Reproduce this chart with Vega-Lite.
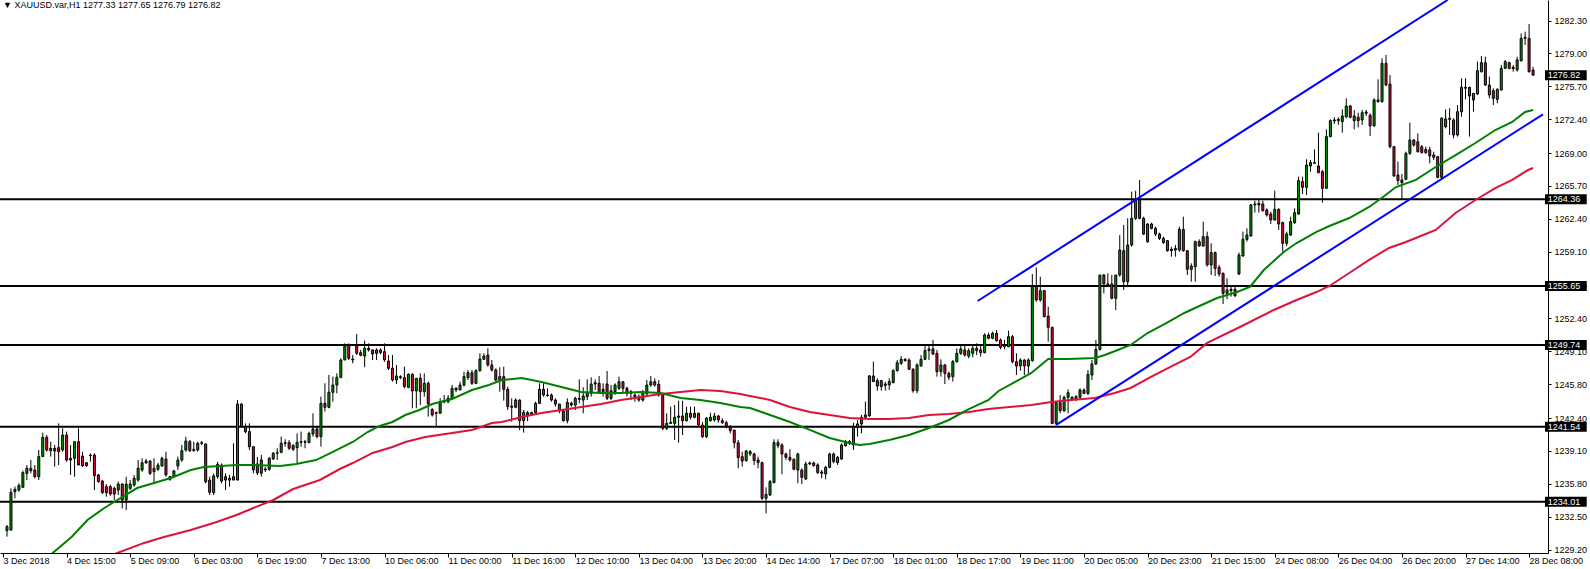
{
  "$schema": "https://vega.github.io/schema/vega-lite/v6.json",
  "width": 1548,
  "height": 553,
  "autosize": {"type": "none"},
  "padding": {"left": 0, "top": 0, "right": 42, "bottom": 16},
  "background": "white",
  "config": {
    "view": {"stroke": null},
    "font": "Liberation Sans",
    "axis": {"labelOverlap": false, "labelBound": false, "grid": false}
  },
  "title": {
    "text": "▼ XAUUSD.var,H1  1277.33 1277.65 1276.79 1276.82",
    "anchor": "start",
    "frame": "group",
    "orient": "top",
    "offset": -10,
    "dx": 3,
    "fontSize": 9,
    "fontWeight": "normal",
    "color": "black",
    "font": "Liberation Sans"
  },
  "datasets": {
    "candles": [
      {"i":0,"o":1231.10,"h":1231.67,"l":1230.50,"c":1231.50},
      {"i":1,"o":1231.17,"h":1235.35,"l":1231.10,"c":1234.95},
      {"i":2,"o":1235.25,"h":1235.52,"l":1234.35,"c":1235.01},
      {"i":3,"o":1235.18,"h":1235.85,"l":1235.01,"c":1235.65},
      {"i":4,"o":1235.45,"h":1237.12,"l":1235.45,"c":1236.92},
      {"i":5,"o":1236.85,"h":1237.69,"l":1236.18,"c":1237.36},
      {"i":6,"o":1237.36,"h":1238.19,"l":1236.85,"c":1237.12},
      {"i":7,"o":1237.19,"h":1237.69,"l":1236.35,"c":1236.52},
      {"i":8,"o":1236.52,"h":1239.20,"l":1236.18,"c":1238.53},
      {"i":9,"o":1238.53,"h":1240.93,"l":1238.53,"c":1240.47},
      {"i":10,"o":1240.47,"h":1240.70,"l":1239.03,"c":1239.20},
      {"i":11,"o":1239.36,"h":1240.03,"l":1238.53,"c":1239.13},
      {"i":12,"o":1239.10,"h":1239.70,"l":1237.52,"c":1239.36},
      {"i":13,"o":1239.43,"h":1241.87,"l":1237.69,"c":1239.03},
      {"i":14,"o":1239.20,"h":1241.37,"l":1239.03,"c":1240.70},
      {"i":15,"o":1240.70,"h":1241.04,"l":1238.02,"c":1238.19},
      {"i":16,"o":1238.19,"h":1239.70,"l":1236.69,"c":1238.36},
      {"i":17,"o":1238.36,"h":1240.03,"l":1236.52,"c":1240.03},
      {"i":18,"o":1240.03,"h":1241.37,"l":1237.69,"c":1237.69},
      {"i":19,"o":1238.59,"h":1239.03,"l":1237.52,"c":1237.59},
      {"i":20,"o":1237.92,"h":1238.00,"l":1237.50,"c":1237.62},
      {"i":21,"o":1238.63,"h":1238.86,"l":1238.02,"c":1238.69},
      {"i":22,"o":1238.69,"h":1238.86,"l":1235.18,"c":1236.62},
      {"i":23,"o":1236.69,"h":1236.80,"l":1235.90,"c":1236.02},
      {"i":24,"o":1236.08,"h":1236.20,"l":1234.80,"c":1234.91},
      {"i":25,"o":1235.52,"h":1235.78,"l":1234.51,"c":1234.91},
      {"i":26,"o":1235.52,"h":1235.70,"l":1234.60,"c":1234.78},
      {"i":27,"o":1235.35,"h":1235.52,"l":1234.18,"c":1234.78},
      {"i":28,"o":1235.18,"h":1236.02,"l":1234.68,"c":1235.78},
      {"i":29,"o":1235.78,"h":1235.85,"l":1233.34,"c":1234.18},
      {"i":30,"o":1234.18,"h":1236.52,"l":1233.17,"c":1235.78},
      {"i":31,"o":1235.35,"h":1236.18,"l":1235.18,"c":1235.78},
      {"i":32,"o":1235.68,"h":1236.69,"l":1235.52,"c":1236.35},
      {"i":33,"o":1236.18,"h":1238.19,"l":1236.02,"c":1237.36},
      {"i":34,"o":1237.19,"h":1238.36,"l":1237.02,"c":1237.92},
      {"i":35,"o":1237.92,"h":1238.30,"l":1237.80,"c":1238.09},
      {"i":36,"o":1238.09,"h":1238.19,"l":1236.69,"c":1236.85},
      {"i":37,"o":1237.02,"h":1238.36,"l":1235.85,"c":1237.36},
      {"i":38,"o":1237.26,"h":1237.90,"l":1237.10,"c":1237.69},
      {"i":39,"o":1237.59,"h":1238.53,"l":1237.52,"c":1238.36},
      {"i":40,"o":1238.29,"h":1239.03,"l":1236.52,"c":1236.69},
      {"i":41,"o":1236.52,"h":1236.60,"l":1236.10,"c":1236.25},
      {"i":42,"o":1236.52,"h":1237.20,"l":1236.40,"c":1237.09},
      {"i":43,"o":1237.59,"h":1238.53,"l":1237.19,"c":1238.19},
      {"i":44,"o":1238.19,"h":1239.70,"l":1238.02,"c":1239.13},
      {"i":45,"o":1239.20,"h":1240.53,"l":1239.03,"c":1240.10},
      {"i":46,"o":1240.03,"h":1240.20,"l":1239.00,"c":1239.13},
      {"i":47,"o":1239.13,"h":1240.03,"l":1239.03,"c":1239.26},
      {"i":48,"o":1239.20,"h":1240.03,"l":1239.03,"c":1239.86},
      {"i":49,"o":1239.86,"h":1240.10,"l":1239.70,"c":1239.93},
      {"i":50,"o":1239.80,"h":1239.86,"l":1235.85,"c":1236.02},
      {"i":51,"o":1236.18,"h":1236.52,"l":1234.68,"c":1234.95},
      {"i":52,"o":1234.91,"h":1236.85,"l":1234.68,"c":1236.59},
      {"i":53,"o":1236.52,"h":1238.00,"l":1236.30,"c":1237.76},
      {"i":54,"o":1237.69,"h":1237.86,"l":1235.85,"c":1236.08},
      {"i":55,"o":1236.52,"h":1236.85,"l":1235.18,"c":1236.18},
      {"i":56,"o":1236.18,"h":1236.69,"l":1235.52,"c":1236.35},
      {"i":57,"o":1236.18,"h":1239.86,"l":1236.18,"c":1236.52},
      {"i":58,"o":1236.18,"h":1244.21,"l":1236.18,"c":1243.81},
      {"i":59,"o":1243.81,"h":1243.88,"l":1241.54,"c":1241.54},
      {"i":60,"o":1241.54,"h":1241.87,"l":1240.87,"c":1241.04},
      {"i":61,"o":1241.04,"h":1241.87,"l":1239.20,"c":1239.53},
      {"i":62,"o":1239.53,"h":1239.53,"l":1236.85,"c":1237.20},
      {"i":63,"o":1237.80,"h":1238.50,"l":1236.69,"c":1236.90},
      {"i":64,"o":1236.86,"h":1238.70,"l":1236.52,"c":1238.20},
      {"i":65,"o":1237.29,"h":1237.50,"l":1237.00,"c":1237.19},
      {"i":66,"o":1237.26,"h":1238.50,"l":1237.10,"c":1238.36},
      {"i":67,"o":1238.30,"h":1239.00,"l":1238.20,"c":1238.87},
      {"i":68,"o":1238.87,"h":1239.37,"l":1238.20,"c":1238.93},
      {"i":69,"o":1238.97,"h":1240.54,"l":1238.87,"c":1239.87},
      {"i":70,"o":1239.87,"h":1240.27,"l":1239.53,"c":1239.94},
      {"i":71,"o":1239.94,"h":1240.20,"l":1239.20,"c":1239.37},
      {"i":72,"o":1239.64,"h":1239.80,"l":1239.10,"c":1239.27},
      {"i":73,"o":1239.43,"h":1240.87,"l":1237.86,"c":1239.97},
      {"i":74,"o":1239.97,"h":1241.04,"l":1239.53,"c":1240.04},
      {"i":75,"o":1240.04,"h":1240.20,"l":1239.37,"c":1239.97},
      {"i":76,"o":1239.94,"h":1241.04,"l":1239.87,"c":1240.87},
      {"i":77,"o":1240.81,"h":1242.88,"l":1240.54,"c":1241.31},
      {"i":78,"o":1241.31,"h":1241.54,"l":1240.37,"c":1240.54},
      {"i":79,"o":1240.54,"h":1244.55,"l":1239.53,"c":1243.88},
      {"i":80,"o":1243.88,"h":1245.89,"l":1243.05,"c":1243.48},
      {"i":81,"o":1243.48,"h":1246.73,"l":1243.38,"c":1244.99},
      {"i":82,"o":1244.99,"h":1246.56,"l":1244.05,"c":1245.72},
      {"i":83,"o":1245.72,"h":1246.89,"l":1244.89,"c":1246.49},
      {"i":84,"o":1246.49,"h":1248.40,"l":1246.39,"c":1248.23},
      {"i":85,"o":1248.23,"h":1249.90,"l":1248.23,"c":1249.67},
      {"i":86,"o":1249.67,"h":1249.90,"l":1248.23,"c":1248.40},
      {"i":87,"o":1248.33,"h":1248.73,"l":1247.90,"c":1248.23},
      {"i":88,"o":1249.67,"h":1250.84,"l":1248.73,"c":1248.90},
      {"i":89,"o":1248.97,"h":1249.24,"l":1248.60,"c":1248.70},
      {"i":90,"o":1248.63,"h":1250.17,"l":1247.50,"c":1249.40},
      {"i":91,"o":1249.40,"h":1249.90,"l":1249.07,"c":1249.24},
      {"i":92,"o":1249.24,"h":1249.30,"l":1248.23,"c":1248.83},
      {"i":93,"o":1248.90,"h":1249.40,"l":1248.23,"c":1249.24},
      {"i":94,"o":1249.24,"h":1249.40,"l":1248.80,"c":1248.97},
      {"i":95,"o":1249.07,"h":1249.90,"l":1248.06,"c":1248.23},
      {"i":96,"o":1248.13,"h":1248.73,"l":1247.23,"c":1247.40},
      {"i":97,"o":1247.40,"h":1248.73,"l":1246.06,"c":1246.22},
      {"i":98,"o":1246.22,"h":1247.73,"l":1245.82,"c":1246.63},
      {"i":99,"o":1246.56,"h":1246.70,"l":1246.30,"c":1246.46},
      {"i":100,"o":1246.46,"h":1247.56,"l":1245.39,"c":1245.56},
      {"i":101,"o":1245.49,"h":1246.90,"l":1245.40,"c":1246.79},
      {"i":102,"o":1246.79,"h":1246.89,"l":1243.38,"c":1245.12},
      {"i":103,"o":1245.12,"h":1246.39,"l":1243.38,"c":1246.39},
      {"i":104,"o":1246.39,"h":1246.89,"l":1243.72,"c":1245.05},
      {"i":105,"o":1245.05,"h":1246.89,"l":1244.55,"c":1245.89},
      {"i":106,"o":1245.89,"h":1246.06,"l":1242.55,"c":1243.82},
      {"i":107,"o":1243.28,"h":1243.38,"l":1242.55,"c":1242.71},
      {"i":108,"o":1242.95,"h":1243.05,"l":1241.54,"c":1242.88},
      {"i":109,"o":1242.88,"h":1244.39,"l":1242.88,"c":1244.05},
      {"i":110,"o":1244.02,"h":1244.72,"l":1243.88,"c":1244.15},
      {"i":111,"o":1244.05,"h":1244.72,"l":1243.88,"c":1244.39},
      {"i":112,"o":1244.35,"h":1245.72,"l":1244.22,"c":1245.39},
      {"i":113,"o":1245.39,"h":1245.50,"l":1245.00,"c":1245.22},
      {"i":114,"o":1245.22,"h":1246.06,"l":1245.22,"c":1245.72},
      {"i":115,"o":1245.72,"h":1247.06,"l":1245.56,"c":1246.56},
      {"i":116,"o":1246.46,"h":1247.23,"l":1246.22,"c":1246.96},
      {"i":117,"o":1246.96,"h":1247.23,"l":1245.72,"c":1245.89},
      {"i":118,"o":1245.89,"h":1247.30,"l":1245.80,"c":1247.16},
      {"i":119,"o":1247.16,"h":1248.90,"l":1247.06,"c":1248.33},
      {"i":120,"o":1248.30,"h":1248.90,"l":1248.23,"c":1248.63},
      {"i":121,"o":1248.73,"h":1249.40,"l":1247.56,"c":1247.73},
      {"i":122,"o":1247.73,"h":1248.23,"l":1247.06,"c":1247.23},
      {"i":123,"o":1247.23,"h":1247.40,"l":1246.06,"c":1246.22},
      {"i":124,"o":1246.22,"h":1247.50,"l":1245.05,"c":1246.56},
      {"i":125,"o":1246.56,"h":1247.56,"l":1244.15,"c":1245.29},
      {"i":126,"o":1245.29,"h":1245.55,"l":1243.21,"c":1243.55},
      {"i":127,"o":1243.61,"h":1244.38,"l":1242.04,"c":1243.48},
      {"i":128,"o":1243.48,"h":1244.38,"l":1243.38,"c":1244.21},
      {"i":129,"o":1244.21,"h":1244.28,"l":1241.20,"c":1242.14},
      {"i":130,"o":1242.14,"h":1243.21,"l":1240.94,"c":1242.98},
      {"i":131,"o":1242.94,"h":1243.10,"l":1242.10,"c":1242.71},
      {"i":132,"o":1242.81,"h":1243.05,"l":1242.71,"c":1242.94},
      {"i":133,"o":1242.94,"h":1244.05,"l":1242.88,"c":1243.88},
      {"i":134,"o":1243.88,"h":1245.89,"l":1243.81,"c":1245.29},
      {"i":135,"o":1245.29,"h":1245.89,"l":1244.55,"c":1244.72},
      {"i":136,"o":1244.72,"h":1245.39,"l":1244.55,"c":1244.65},
      {"i":137,"o":1244.72,"h":1244.88,"l":1244.05,"c":1244.21},
      {"i":138,"o":1244.21,"h":1244.38,"l":1243.55,"c":1243.81},
      {"i":139,"o":1243.81,"h":1243.81,"l":1242.88,"c":1243.11},
      {"i":140,"o":1243.11,"h":1243.21,"l":1242.04,"c":1242.14},
      {"i":141,"o":1242.14,"h":1244.38,"l":1241.87,"c":1243.98},
      {"i":142,"o":1243.88,"h":1244.05,"l":1243.55,"c":1243.71},
      {"i":143,"o":1243.71,"h":1244.55,"l":1243.21,"c":1244.38},
      {"i":144,"o":1244.28,"h":1246.29,"l":1243.88,"c":1244.38},
      {"i":145,"o":1244.21,"h":1245.49,"l":1242.88,"c":1244.62},
      {"i":146,"o":1244.55,"h":1246.29,"l":1244.21,"c":1244.95},
      {"i":147,"o":1244.88,"h":1246.49,"l":1244.55,"c":1245.82},
      {"i":148,"o":1245.82,"h":1246.29,"l":1245.22,"c":1245.95},
      {"i":149,"o":1245.89,"h":1246.62,"l":1244.88,"c":1244.95},
      {"i":150,"o":1245.05,"h":1245.89,"l":1244.55,"c":1245.29},
      {"i":151,"o":1245.82,"h":1247.13,"l":1244.21,"c":1244.38},
      {"i":152,"o":1244.38,"h":1245.72,"l":1244.21,"c":1245.15},
      {"i":153,"o":1245.05,"h":1245.89,"l":1244.72,"c":1245.72},
      {"i":154,"o":1245.39,"h":1246.56,"l":1245.22,"c":1246.05},
      {"i":155,"o":1246.05,"h":1246.05,"l":1244.88,"c":1245.39},
      {"i":156,"o":1245.39,"h":1245.55,"l":1244.55,"c":1244.88},
      {"i":157,"o":1245.05,"h":1245.22,"l":1244.21,"c":1244.88},
      {"i":158,"o":1244.72,"h":1244.88,"l":1244.05,"c":1244.55},
      {"i":159,"o":1244.55,"h":1244.78,"l":1244.05,"c":1244.21},
      {"i":160,"o":1244.21,"h":1245.22,"l":1244.05,"c":1244.88},
      {"i":161,"o":1244.82,"h":1246.22,"l":1244.72,"c":1245.72},
      {"i":162,"o":1245.72,"h":1246.62,"l":1245.55,"c":1246.05},
      {"i":163,"o":1246.05,"h":1246.39,"l":1245.55,"c":1245.72},
      {"i":164,"o":1245.79,"h":1246.22,"l":1244.55,"c":1244.72},
      {"i":165,"o":1244.88,"h":1244.88,"l":1241.20,"c":1241.37},
      {"i":166,"o":1241.37,"h":1242.88,"l":1241.20,"c":1241.87},
      {"i":167,"o":1241.87,"h":1243.55,"l":1241.81,"c":1241.97},
      {"i":168,"o":1241.87,"h":1243.71,"l":1240.20,"c":1242.48},
      {"i":169,"o":1242.48,"h":1244.15,"l":1239.93,"c":1242.61},
      {"i":170,"o":1242.61,"h":1244.15,"l":1240.70,"c":1242.14},
      {"i":171,"o":1242.14,"h":1243.55,"l":1242.04,"c":1242.88},
      {"i":172,"o":1242.88,"h":1243.55,"l":1242.27,"c":1242.48},
      {"i":173,"o":1242.48,"h":1243.55,"l":1242.38,"c":1242.88},
      {"i":174,"o":1242.88,"h":1242.94,"l":1241.61,"c":1241.71},
      {"i":175,"o":1241.71,"h":1242.00,"l":1240.40,"c":1240.54},
      {"i":176,"o":1240.54,"h":1242.50,"l":1240.40,"c":1242.38},
      {"i":177,"o":1242.14,"h":1242.94,"l":1242.04,"c":1242.48},
      {"i":178,"o":1242.21,"h":1242.94,"l":1242.04,"c":1242.61},
      {"i":179,"o":1242.61,"h":1242.71,"l":1241.94,"c":1242.21},
      {"i":180,"o":1242.14,"h":1242.38,"l":1241.81,"c":1241.94},
      {"i":181,"o":1241.94,"h":1242.14,"l":1241.37,"c":1241.54},
      {"i":182,"o":1241.54,"h":1241.71,"l":1240.87,"c":1241.14},
      {"i":183,"o":1241.20,"h":1241.20,"l":1239.36,"c":1239.93},
      {"i":184,"o":1239.93,"h":1240.20,"l":1237.36,"c":1238.43},
      {"i":185,"o":1238.53,"h":1239.03,"l":1237.52,"c":1238.09},
      {"i":186,"o":1238.13,"h":1239.20,"l":1238.03,"c":1239.10},
      {"i":187,"o":1238.80,"h":1239.20,"l":1238.60,"c":1239.03},
      {"i":188,"o":1238.80,"h":1238.93,"l":1237.70,"c":1238.13},
      {"i":189,"o":1238.20,"h":1238.53,"l":1237.36,"c":1237.93},
      {"i":190,"o":1237.93,"h":1238.03,"l":1234.18,"c":1234.35},
      {"i":191,"o":1234.35,"h":1235.45,"l":1232.84,"c":1234.75},
      {"i":192,"o":1234.68,"h":1236.19,"l":1234.58,"c":1236.02},
      {"i":193,"o":1235.92,"h":1240.27,"l":1235.86,"c":1239.94},
      {"i":194,"o":1239.94,"h":1240.27,"l":1239.37,"c":1239.64},
      {"i":195,"o":1239.70,"h":1239.87,"l":1236.76,"c":1238.80},
      {"i":196,"o":1238.80,"h":1238.93,"l":1238.20,"c":1238.46},
      {"i":197,"o":1238.46,"h":1239.27,"l":1238.03,"c":1238.20},
      {"i":198,"o":1238.26,"h":1238.36,"l":1237.19,"c":1237.26},
      {"i":199,"o":1237.19,"h":1238.93,"l":1235.86,"c":1238.80},
      {"i":200,"o":1237.19,"h":1237.36,"l":1235.79,"c":1236.46},
      {"i":201,"o":1236.29,"h":1238.03,"l":1236.19,"c":1237.80},
      {"i":202,"o":1237.80,"h":1238.03,"l":1237.70,"c":1237.90},
      {"i":203,"o":1237.90,"h":1238.03,"l":1237.53,"c":1237.63},
      {"i":204,"o":1237.70,"h":1237.86,"l":1236.79,"c":1236.93},
      {"i":205,"o":1236.99,"h":1237.19,"l":1236.36,"c":1236.86},
      {"i":206,"o":1236.79,"h":1237.59,"l":1236.26,"c":1237.46},
      {"i":207,"o":1237.46,"h":1238.93,"l":1237.36,"c":1238.80},
      {"i":208,"o":1238.80,"h":1238.93,"l":1237.86,"c":1238.03},
      {"i":209,"o":1237.93,"h":1238.60,"l":1237.70,"c":1238.46},
      {"i":210,"o":1238.30,"h":1239.87,"l":1238.20,"c":1239.70},
      {"i":211,"o":1239.64,"h":1240.20,"l":1239.53,"c":1240.04},
      {"i":212,"o":1240.04,"h":1240.20,"l":1239.70,"c":1239.87},
      {"i":213,"o":1239.70,"h":1241.94,"l":1239.20,"c":1241.54},
      {"i":214,"o":1241.48,"h":1242.21,"l":1240.54,"c":1241.81},
      {"i":215,"o":1241.81,"h":1242.71,"l":1240.87,"c":1242.48},
      {"i":216,"o":1242.48,"h":1244.05,"l":1242.38,"c":1242.71},
      {"i":217,"o":1242.61,"h":1246.73,"l":1242.55,"c":1246.63},
      {"i":218,"o":1246.63,"h":1248.06,"l":1246.06,"c":1246.06},
      {"i":219,"o":1246.16,"h":1246.39,"l":1245.15,"c":1245.62},
      {"i":220,"o":1245.56,"h":1246.22,"l":1245.15,"c":1246.16},
      {"i":221,"o":1245.82,"h":1246.06,"l":1245.15,"c":1245.69},
      {"i":222,"o":1245.72,"h":1246.39,"l":1245.22,"c":1246.06},
      {"i":223,"o":1245.96,"h":1247.30,"l":1245.89,"c":1247.16},
      {"i":224,"o":1247.16,"h":1248.23,"l":1247.06,"c":1247.96},
      {"i":225,"o":1247.90,"h":1248.63,"l":1247.73,"c":1248.30},
      {"i":226,"o":1248.30,"h":1248.40,"l":1248.06,"c":1248.17},
      {"i":227,"o":1248.23,"h":1248.40,"l":1247.23,"c":1247.30},
      {"i":228,"o":1247.30,"h":1247.40,"l":1244.95,"c":1245.15},
      {"i":229,"o":1245.15,"h":1247.90,"l":1244.89,"c":1247.73},
      {"i":230,"o":1247.63,"h":1248.73,"l":1247.56,"c":1248.30},
      {"i":231,"o":1248.30,"h":1249.74,"l":1248.23,"c":1249.17},
      {"i":232,"o":1249.17,"h":1249.74,"l":1248.23,"c":1249.34},
      {"i":233,"o":1249.34,"h":1250.24,"l":1248.73,"c":1248.83},
      {"i":234,"o":1248.90,"h":1249.24,"l":1246.56,"c":1247.06},
      {"i":235,"o":1247.06,"h":1248.30,"l":1246.56,"c":1247.73},
      {"i":236,"o":1247.73,"h":1247.83,"l":1245.82,"c":1246.89},
      {"i":237,"o":1246.89,"h":1247.06,"l":1246.22,"c":1246.49},
      {"i":238,"o":1246.56,"h":1248.23,"l":1246.06,"c":1248.06},
      {"i":239,"o":1248.06,"h":1249.40,"l":1247.96,"c":1248.90},
      {"i":240,"o":1248.90,"h":1249.74,"l":1248.73,"c":1249.34},
      {"i":241,"o":1249.24,"h":1249.74,"l":1248.57,"c":1248.73},
      {"i":242,"o":1248.63,"h":1249.40,"l":1248.40,"c":1249.17},
      {"i":243,"o":1248.90,"h":1249.74,"l":1248.50,"c":1249.40},
      {"i":244,"o":1249.40,"h":1249.90,"l":1248.73,"c":1249.17},
      {"i":245,"o":1249.24,"h":1249.74,"l":1248.57,"c":1248.97},
      {"i":246,"o":1248.97,"h":1250.91,"l":1248.90,"c":1250.74},
      {"i":247,"o":1250.74,"h":1250.97,"l":1250.31,"c":1250.41},
      {"i":248,"o":1250.41,"h":1251.08,"l":1250.31,"c":1250.91},
      {"i":249,"o":1250.91,"h":1251.24,"l":1250.07,"c":1250.17},
      {"i":250,"o":1250.24,"h":1250.40,"l":1249.30,"c":1249.50},
      {"i":251,"o":1249.57,"h":1250.24,"l":1249.30,"c":1249.74},
      {"i":252,"o":1249.57,"h":1251.17,"l":1249.50,"c":1250.57},
      {"i":253,"o":1250.57,"h":1250.74,"l":1247.90,"c":1248.06},
      {"i":254,"o":1248.06,"h":1248.90,"l":1246.72,"c":1247.63},
      {"i":255,"o":1247.63,"h":1248.40,"l":1247.16,"c":1248.23},
      {"i":256,"o":1248.23,"h":1248.30,"l":1246.72,"c":1247.63},
      {"i":257,"o":1247.63,"h":1248.40,"l":1246.89,"c":1248.23},
      {"i":258,"o":1248.16,"h":1256.86,"l":1248.06,"c":1255.59},
      {"i":259,"o":1255.59,"h":1257.53,"l":1254.08,"c":1254.25},
      {"i":260,"o":1254.25,"h":1256.59,"l":1254.08,"c":1255.19},
      {"i":261,"o":1255.19,"h":1255.25,"l":1252.51,"c":1252.58},
      {"i":262,"o":1252.65,"h":1253.58,"l":1250.07,"c":1251.51},
      {"i":263,"o":1251.51,"h":1251.57,"l":1241.80,"c":1241.87},
      {"i":264,"o":1241.87,"h":1244.10,"l":1241.70,"c":1243.95},
      {"i":265,"o":1243.95,"h":1244.72,"l":1242.88,"c":1243.15},
      {"i":266,"o":1243.15,"h":1244.65,"l":1243.00,"c":1244.48},
      {"i":267,"o":1244.48,"h":1245.29,"l":1242.88,"c":1244.95},
      {"i":268,"o":1244.48,"h":1244.60,"l":1244.10,"c":1244.28},
      {"i":269,"o":1244.55,"h":1244.70,"l":1244.10,"c":1244.28},
      {"i":270,"o":1244.48,"h":1245.39,"l":1244.38,"c":1245.22},
      {"i":271,"o":1245.22,"h":1245.39,"l":1244.82,"c":1244.88},
      {"i":272,"o":1244.88,"h":1247.23,"l":1244.72,"c":1246.79},
      {"i":273,"o":1246.72,"h":1248.23,"l":1246.22,"c":1247.83},
      {"i":274,"o":1247.83,"h":1250.24,"l":1247.73,"c":1249.30},
      {"i":275,"o":1249.30,"h":1256.76,"l":1249.17,"c":1256.76},
      {"i":276,"o":1256.76,"h":1256.86,"l":1254.92,"c":1255.86},
      {"i":277,"o":1255.76,"h":1256.93,"l":1255.59,"c":1255.86},
      {"i":278,"o":1255.86,"h":1256.76,"l":1254.32,"c":1254.42},
      {"i":279,"o":1254.42,"h":1256.76,"l":1253.25,"c":1256.76},
      {"i":280,"o":1256.76,"h":1260.77,"l":1256.59,"c":1259.27},
      {"i":281,"o":1259.20,"h":1261.78,"l":1255.25,"c":1256.09},
      {"i":282,"o":1256.09,"h":1262.45,"l":1255.59,"c":1259.77},
      {"i":283,"o":1259.77,"h":1265.12,"l":1259.60,"c":1262.45},
      {"i":284,"o":1262.45,"h":1265.22,"l":1262.28,"c":1264.35},
      {"i":285,"o":1264.35,"h":1266.29,"l":1262.35,"c":1262.45},
      {"i":286,"o":1262.45,"h":1262.61,"l":1260.77,"c":1260.87},
      {"i":287,"o":1260.10,"h":1261.94,"l":1260.00,"c":1261.88},
      {"i":288,"o":1261.88,"h":1262.01,"l":1261.34,"c":1261.44},
      {"i":289,"o":1261.44,"h":1261.61,"l":1260.67,"c":1260.87},
      {"i":290,"o":1260.87,"h":1261.01,"l":1260.27,"c":1260.44},
      {"i":291,"o":1260.44,"h":1260.60,"l":1259.90,"c":1260.00},
      {"i":292,"o":1260.21,"h":1260.27,"l":1259.10,"c":1259.20},
      {"i":293,"o":1259.34,"h":1259.60,"l":1258.60,"c":1259.20},
      {"i":294,"o":1259.27,"h":1259.77,"l":1258.60,"c":1259.44},
      {"i":295,"o":1259.27,"h":1261.61,"l":1259.10,"c":1261.34},
      {"i":296,"o":1261.34,"h":1262.61,"l":1259.10,"c":1259.20},
      {"i":297,"o":1259.20,"h":1259.27,"l":1256.76,"c":1257.33},
      {"i":298,"o":1257.33,"h":1257.93,"l":1256.09,"c":1257.66},
      {"i":299,"o":1257.60,"h":1260.21,"l":1256.09,"c":1260.10},
      {"i":300,"o":1260.11,"h":1260.34,"l":1259.61,"c":1259.67},
      {"i":301,"o":1259.67,"h":1262.12,"l":1259.61,"c":1260.61},
      {"i":302,"o":1260.61,"h":1261.11,"l":1257.60,"c":1257.77},
      {"i":303,"o":1257.77,"h":1259.94,"l":1256.76,"c":1259.01},
      {"i":304,"o":1259.01,"h":1259.11,"l":1256.66,"c":1257.43},
      {"i":305,"o":1257.53,"h":1257.77,"l":1256.60,"c":1256.86},
      {"i":306,"o":1256.93,"h":1257.00,"l":1253.85,"c":1254.92},
      {"i":307,"o":1254.92,"h":1256.43,"l":1254.32,"c":1255.26},
      {"i":308,"o":1255.33,"h":1255.59,"l":1254.59,"c":1255.19},
      {"i":309,"o":1255.33,"h":1255.59,"l":1254.59,"c":1254.66},
      {"i":310,"o":1256.86,"h":1259.01,"l":1256.76,"c":1258.77},
      {"i":311,"o":1258.67,"h":1261.11,"l":1258.60,"c":1260.34},
      {"i":312,"o":1260.34,"h":1261.45,"l":1260.11,"c":1260.78},
      {"i":313,"o":1260.68,"h":1263.89,"l":1260.61,"c":1263.79},
      {"i":314,"o":1263.89,"h":1264.22,"l":1263.02,"c":1263.79},
      {"i":315,"o":1263.79,"h":1264.29,"l":1263.02,"c":1263.96},
      {"i":316,"o":1263.89,"h":1264.22,"l":1263.12,"c":1263.22},
      {"i":317,"o":1263.29,"h":1263.45,"l":1262.62,"c":1262.79},
      {"i":318,"o":1262.89,"h":1263.12,"l":1261.88,"c":1262.28},
      {"i":319,"o":1262.28,"h":1265.23,"l":1262.22,"c":1263.35},
      {"i":320,"o":1263.35,"h":1263.45,"l":1261.28,"c":1261.88},
      {"i":321,"o":1262.02,"h":1262.12,"l":1259.11,"c":1259.94},
      {"i":322,"o":1259.94,"h":1261.11,"l":1259.67,"c":1260.88},
      {"i":323,"o":1260.78,"h":1262.62,"l":1260.68,"c":1262.12},
      {"i":324,"o":1262.02,"h":1263.45,"l":1261.88,"c":1263.02},
      {"i":325,"o":1262.89,"h":1266.63,"l":1262.79,"c":1266.23},
      {"i":326,"o":1266.13,"h":1266.63,"l":1264.89,"c":1265.56},
      {"i":327,"o":1265.56,"h":1268.37,"l":1264.79,"c":1267.80},
      {"i":328,"o":1267.70,"h":1268.30,"l":1267.13,"c":1268.04},
      {"i":329,"o":1268.04,"h":1269.37,"l":1267.90,"c":1267.97},
      {"i":330,"o":1267.70,"h":1271.05,"l":1266.97,"c":1267.03},
      {"i":331,"o":1267.13,"h":1267.30,"l":1264.02,"c":1265.46},
      {"i":332,"o":1265.46,"h":1271.38,"l":1265.46,"c":1270.65},
      {"i":333,"o":1270.65,"h":1272.39,"l":1270.58,"c":1272.25},
      {"i":334,"o":1272.22,"h":1272.59,"l":1271.92,"c":1272.32},
      {"i":335,"o":1272.39,"h":1272.59,"l":1271.82,"c":1272.25},
      {"i":336,"o":1272.15,"h":1273.39,"l":1271.05,"c":1272.72},
      {"i":337,"o":1272.65,"h":1274.49,"l":1272.49,"c":1273.72},
      {"i":338,"o":1273.72,"h":1273.82,"l":1272.49,"c":1272.59},
      {"i":339,"o":1272.25,"h":1273.32,"l":1271.38,"c":1272.72},
      {"i":340,"o":1272.59,"h":1273.05,"l":1271.58,"c":1272.25},
      {"i":341,"o":1272.32,"h":1273.32,"l":1271.82,"c":1273.05},
      {"i":342,"o":1273.12,"h":1273.32,"l":1272.72,"c":1272.99},
      {"i":343,"o":1272.79,"h":1272.99,"l":1270.71,"c":1271.72},
      {"i":344,"o":1271.72,"h":1274.49,"l":1271.65,"c":1274.33},
      {"i":345,"o":1274.16,"h":1276.40,"l":1274.06,"c":1274.33},
      {"i":346,"o":1274.16,"h":1278.51,"l":1274.06,"c":1278.00},
      {"i":347,"o":1278.00,"h":1278.84,"l":1275.73,"c":1275.83},
      {"i":348,"o":1275.93,"h":1276.83,"l":1269.48,"c":1269.64},
      {"i":349,"o":1269.64,"h":1269.71,"l":1266.63,"c":1266.70},
      {"i":350,"o":1266.80,"h":1268.14,"l":1265.80,"c":1266.23},
      {"i":351,"o":1266.30,"h":1266.90,"l":1264.29,"c":1266.03},
      {"i":352,"o":1266.36,"h":1269.14,"l":1266.30,"c":1268.97},
      {"i":353,"o":1268.97,"h":1272.05,"l":1268.81,"c":1270.31},
      {"i":354,"o":1270.31,"h":1270.38,"l":1269.64,"c":1269.81},
      {"i":355,"o":1270.14,"h":1270.98,"l":1269.04,"c":1269.14},
      {"i":356,"o":1269.64,"h":1269.81,"l":1268.97,"c":1269.04},
      {"i":357,"o":1269.37,"h":1269.64,"l":1268.91,"c":1269.04},
      {"i":358,"o":1269.31,"h":1269.64,"l":1267.97,"c":1268.71},
      {"i":359,"o":1268.81,"h":1269.14,"l":1268.30,"c":1268.57},
      {"i":360,"o":1268.64,"h":1268.71,"l":1266.46,"c":1266.56},
      {"i":361,"o":1266.56,"h":1272.59,"l":1266.46,"c":1272.49},
      {"i":362,"o":1271.65,"h":1273.39,"l":1271.48,"c":1272.42},
      {"i":363,"o":1272.49,"h":1273.49,"l":1270.81,"c":1272.38},
      {"i":364,"o":1272.32,"h":1272.49,"l":1270.48,"c":1270.81},
      {"i":365,"o":1270.81,"h":1273.82,"l":1270.65,"c":1273.15},
      {"i":366,"o":1273.15,"h":1276.50,"l":1272.65,"c":1275.60},
      {"i":367,"o":1275.50,"h":1276.50,"l":1274.39,"c":1275.60},
      {"i":368,"o":1275.60,"h":1275.66,"l":1270.65,"c":1274.73},
      {"i":369,"o":1274.32,"h":1274.99,"l":1273.15,"c":1274.99},
      {"i":370,"o":1274.93,"h":1278.17,"l":1274.83,"c":1277.27},
      {"i":371,"o":1277.17,"h":1278.74,"l":1277.07,"c":1278.07},
      {"i":372,"o":1278.07,"h":1278.67,"l":1275.73,"c":1275.83},
      {"i":373,"o":1275.83,"h":1276.67,"l":1274.49,"c":1274.83},
      {"i":374,"o":1275.26,"h":1275.50,"l":1273.82,"c":1274.49},
      {"i":375,"o":1274.39,"h":1275.50,"l":1273.99,"c":1275.40},
      {"i":376,"o":1275.33,"h":1277.84,"l":1275.26,"c":1277.50},
      {"i":377,"o":1277.50,"h":1278.34,"l":1277.44,"c":1278.17},
      {"i":378,"o":1278.07,"h":1278.17,"l":1277.40,"c":1277.50},
      {"i":379,"o":1277.60,"h":1277.84,"l":1277.17,"c":1277.47},
      {"i":380,"o":1277.34,"h":1278.67,"l":1277.17,"c":1278.34},
      {"i":381,"o":1278.27,"h":1281.01,"l":1278.17,"c":1280.51},
      {"i":382,"o":1280.51,"h":1281.18,"l":1279.84,"c":1280.61},
      {"i":383,"o":1280.51,"h":1281.95,"l":1277.07,"c":1277.17},
      {"i":384,"o":1277.33,"h":1277.65,"l":1276.79,"c":1276.82}
    ],
    "maFast": [
      {"i":9,"p":1228.0},{"i":11.5,"p":1228.86},{"i":16.25,"p":1230.47},{"i":20.25,"p":1232.17},
      {"i":24.5,"p":1233.38},{"i":27.75,"p":1234.18},{"i":32.75,"p":1235.38},{"i":37,"p":1235.89},
      {"i":41.25,"p":1236.39},{"i":46.25,"p":1237.19},{"i":49.5,"p":1237.49},{"i":53.75,"p":1237.59},
      {"i":57.75,"p":1237.69},{"i":62,"p":1237.69},{"i":68.75,"p":1237.59},{"i":72.75,"p":1237.79},
      {"i":77.75,"p":1238.19},{"i":82,"p":1239.0},{"i":87,"p":1240.0},{"i":90.75,"p":1241.0},
      {"i":93.75,"p":1241.61},{"i":97,"p":1242.01},{"i":100.25,"p":1242.71},{"i":103.75,"p":1243.21},
      {"i":107,"p":1243.81},{"i":112,"p":1244.32},{"i":117,"p":1245.22},{"i":121.25,"p":1245.72},
      {"i":124.5,"p":1246.22},{"i":129.5,"p":1246.42},{"i":134.5,"p":1246.02},{"i":139.5,"p":1245.52},
      {"i":144.5,"p":1245.02},{"i":149.5,"p":1244.92},{"i":154.5,"p":1244.92},{"i":159.5,"p":1245.02},
      {"i":164.5,"p":1244.92},{"i":169.5,"p":1244.42},{"i":174.5,"p":1244.22},{"i":179.5,"p":1243.91},
      {"i":184.5,"p":1243.51},{"i":187,"p":1243.41},{"i":192,"p":1242.71},{"i":197,"p":1242.01},
      {"i":202,"p":1241.21},{"i":207,"p":1240.4},{"i":212,"p":1239.9},{"i":214.5,"p":1239.7},
      {"i":217,"p":1239.8},{"i":222,"p":1240.2},{"i":227,"p":1240.7},{"i":232,"p":1241.41},
      {"i":237,"p":1242.21},{"i":242,"p":1243.31},{"i":247,"p":1244.22},{"i":249.5,"p":1245.12},
      {"i":254.5,"p":1246.22},{"i":257.75,"p":1246.93},{"i":262,"p":1248.33},{"i":267,"p":1248.33},
      {"i":273.75,"p":1248.43},{"i":276.25,"p":1248.73},{"i":279.5,"p":1249.23},{"i":282.75,"p":1249.74},
      {"i":287,"p":1250.94},{"i":291.25,"p":1251.84},{"i":296.25,"p":1252.95},{"i":299.5,"p":1253.55},
      {"i":304.5,"p":1254.45},{"i":309.5,"p":1255.05},{"i":312.75,"p":1255.56},{"i":316.25,"p":1257.26},
      {"i":321.25,"p":1259.07},{"i":324.5,"p":1259.97},{"i":329.5,"p":1261.08},{"i":332.75,"p":1261.68},
      {"i":337.75,"p":1262.48},{"i":342.75,"p":1263.59},{"i":346.25,"p":1264.59},{"i":349.5,"p":1265.59},
      {"i":354.5,"p":1266.3},{"i":359.5,"p":1267.6},{"i":364.5,"p":1268.8},{"i":369.5,"p":1270.01},
      {"i":374.5,"p":1271.31},{"i":378.75,"p":1272.12},{"i":382,"p":1273.12},{"i":384,"p":1273.32}
    ],
    "maSlow": [
      {"i":25.75,"p":1228.56},{"i":34.5,"p":1229.87},{"i":39.5,"p":1230.47},{"i":46.25,"p":1231.17},
      {"i":52.75,"p":1231.97},{"i":57.75,"p":1232.67},{"i":62,"p":1233.38},{"i":67,"p":1234.18},
      {"i":72,"p":1235.28},{"i":78.75,"p":1236.19},{"i":83.75,"p":1237.29},{"i":87,"p":1237.89},
      {"i":92,"p":1238.9},{"i":97,"p":1239.5},{"i":100.25,"p":1240.0},{"i":105.25,"p":1240.5},
      {"i":112,"p":1240.9},{"i":117,"p":1241.21},{"i":122,"p":1241.91},{"i":124.5,"p":1242.01},
      {"i":129.5,"p":1242.51},{"i":134.5,"p":1242.91},{"i":139.5,"p":1243.21},{"i":144.5,"p":1243.51},
      {"i":149.5,"p":1243.81},{"i":154.5,"p":1244.22},{"i":159.5,"p":1244.52},{"i":164.5,"p":1244.82},
      {"i":169.5,"p":1245.02},{"i":174.5,"p":1245.22},{"i":179.5,"p":1245.12},{"i":184.5,"p":1244.82},
      {"i":187,"p":1244.62},{"i":192,"p":1244.22},{"i":197,"p":1243.51},{"i":202,"p":1243.01},
      {"i":207,"p":1242.71},{"i":212,"p":1242.41},{"i":217,"p":1242.31},{"i":222,"p":1242.31},
      {"i":227,"p":1242.41},{"i":232,"p":1242.71},{"i":237,"p":1242.81},{"i":242,"p":1243.01},
      {"i":247,"p":1243.31},{"i":249.5,"p":1243.41},{"i":257.75,"p":1243.71},{"i":262.75,"p":1244.02},
      {"i":267.75,"p":1244.22},{"i":273.75,"p":1244.42},{"i":278.75,"p":1244.92},{"i":282.75,"p":1245.42},
      {"i":287.75,"p":1246.52},{"i":292.75,"p":1247.53},{"i":297.75,"p":1248.53},{"i":302,"p":1249.94},
      {"i":310.25,"p":1251.54},{"i":318.75,"p":1253.25},{"i":324.5,"p":1254.25},{"i":329.5,"p":1255.05},
      {"i":332.75,"p":1255.66},{"i":337.75,"p":1256.96},{"i":342.75,"p":1258.27},{"i":347.75,"p":1259.47},
      {"i":352,"p":1260.07},{"i":354.5,"p":1260.47},{"i":359.5,"p":1261.28},{"i":364.5,"p":1262.98},
      {"i":369.5,"p":1264.29},{"i":374.5,"p":1265.49},{"i":378.75,"p":1266.3},{"i":382.75,"p":1267.3},
      {"i":384,"p":1267.5}
    ],
    "channel": [
      {"ln":"upper","i":244.25,"p":1254.15},
      {"ln":"upper","i":362.5,"p":1284.36},
      {"ln":"lower","i":264,"p":1241.71},
      {"ln":"lower","i":386.5,"p":1272.89}
    ],
    "levels": [
      {"p":1264.36},{"p":1255.65},{"p":1249.74},{"p":1241.54},{"p":1234.01}
    ],
    "tags": [
      {"p":1276.82},{"p":1264.36},{"p":1255.65},{"p":1249.74},{"p":1241.54},{"p":1234.01}
    ]
  },
  "layer": [
    {
      "data": {"name": "levels"},
      "mark": {"type": "rule", "color": "black", "strokeWidth": 2},
      "encoding": {
        "y": {
          "field": "p",
          "type": "quantitative",
          "scale": {"domain": [1228.86, 1284.36], "nice": false, "zero": false},
          "axis": {
            "orient": "right",
            "title": null,
            "values": [1229.2, 1232.5, 1235.8, 1239.1, 1242.4, 1245.8, 1249.1, 1252.4, 1255.7, 1259.1, 1262.4, 1265.7, 1269.0, 1272.4, 1275.7, 1279.0, 1282.3],
            "tickCount": 40,
            "format": ".2f",
            "grid": false,
            "domainColor": "black",
            "domainWidth": 1,
            "tickColor": "black",
            "tickSize": 3,
            "labelPadding": 3,
            "labelColor": "black",
            "labelFont": "Liberation Sans",
            "labelFontSize": 9,
            "labelOverlap": false,
            "labelBound": false
          }
        }
      }
    },
    {
      "data": {"name": "candles"},
      "mark": {"type": "rule", "color": "black", "strokeWidth": 1},
      "encoding": {
        "x": {
          "field": "i",
          "type": "quantitative",
          "scale": {"domain": [-0.5, 386.5], "nice": false, "zero": false},
          "axis": {
            "orient": "bottom",
            "title": null,
            "values": [-1, 15, 31, 47, 63, 79, 95, 111, 127, 143, 159, 175, 191, 207, 223, 239, 255, 271, 287, 303, 319, 335, 351, 367, 383],
            "tickCount": 60,
            "labelExpr": "['3 Dec 2018','4 Dec 15:00','5 Dec 09:00','6 Dec 03:00','6 Dec 19:00','7 Dec 13:00','10 Dec 06:00','11 Dec 00:00','11 Dec 16:00','12 Dec 10:00','13 Dec 04:00','13 Dec 20:00','14 Dec 14:00','17 Dec 07:00','18 Dec 01:00','18 Dec 17:00','19 Dec 11:00','20 Dec 05:00','20 Dec 23:00','21 Dec 15:00','24 Dec 08:00','26 Dec 04:00','26 Dec 20:00','27 Dec 14:00','28 Dec 08:00'][(datum.value + 1) / 16]",
            "grid": false,
            "domainColor": "black",
            "domainWidth": 1,
            "tickColor": "black",
            "tickSize": 4,
            "labelAlign": "left",
            "labelBaseline": "top",
            "labelOffset": 0,
            "labelPadding": -1,
            "labelColor": "black",
            "labelFont": "Liberation Sans",
            "labelFontSize": 9,
            "labelOverlap": false,
            "labelBound": false,
            "labelFlush": false
          }
        },
        "y": {"field": "l", "type": "quantitative"},
        "y2": {"field": "h"}
      }
    },
    {
      "data": {"name": "candles"},
      "mark": {"type": "bar", "width": 2, "stroke": "black", "strokeWidth": 1},
      "encoding": {
        "x": {"field": "i", "type": "quantitative"},
        "y": {"field": "o", "type": "quantitative"},
        "y2": {"field": "c"},
        "color": {
          "condition": {"test": "datum.c >= datum.o", "value": "#009a00"},
          "value": "#cf1236"
        }
      }
    },
    {
      "data": {"name": "maSlow"},
      "mark": {"type": "line", "color": "#dc143c", "strokeWidth": 2, "clip": true},
      "encoding": {
        "x": {"field": "i", "type": "quantitative"},
        "y": {"field": "p", "type": "quantitative"}
      }
    },
    {
      "data": {"name": "maFast"},
      "mark": {"type": "line", "color": "#008000", "strokeWidth": 2, "clip": true},
      "encoding": {
        "x": {"field": "i", "type": "quantitative"},
        "y": {"field": "p", "type": "quantitative"}
      }
    },
    {
      "data": {"name": "channel"},
      "mark": {"type": "line", "color": "#0000ff", "strokeWidth": 2, "clip": true},
      "encoding": {
        "x": {"field": "i", "type": "quantitative"},
        "y": {"field": "p", "type": "quantitative"},
        "detail": {"field": "ln"}
      }
    },
    {
      "data": {"name": "tags"},
      "mark": {"type": "rule", "color": "black", "strokeWidth": 10, "strokeCap": "butt"},
      "encoding": {
        "x": {"datum": 387},
        "x2": {"datum": 397.5},
        "y": {"field": "p", "type": "quantitative"}
      }
    },
    {
      "data": {"name": "tags"},
      "mark": {"type": "text", "color": "white", "align": "left", "baseline": "middle", "font": "Liberation Sans", "fontSize": 9},
      "encoding": {
        "x": {"datum": 387.7},
        "y": {"field": "p", "type": "quantitative"},
        "text": {"field": "p", "type": "quantitative", "format": ".2f"}
      }
    }
  ]
}
